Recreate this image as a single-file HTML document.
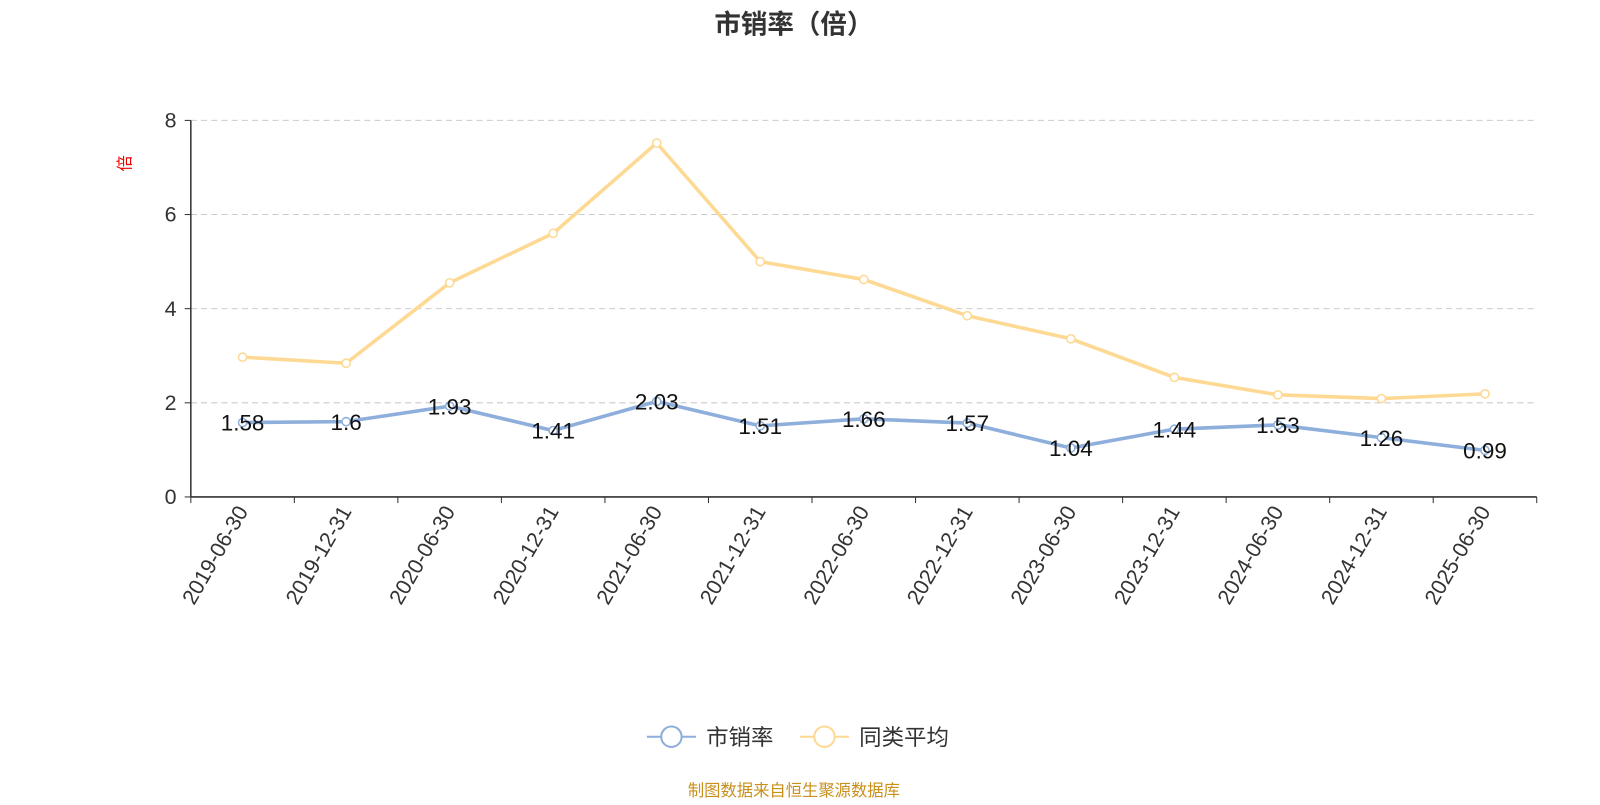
<!DOCTYPE html>
<html><head><meta charset="utf-8"><style>
body{margin:0;background:#fff;width:1600px;height:800px;overflow:hidden;font-family:"Liberation Sans","Noto Sans CJK SC",sans-serif}
</style></head><body>
<svg id="c" width="1600" height="800" viewBox="0 0 1568 784" xmlns="http://www.w3.org/2000/svg" font-family="Liberation Sans, Noto Sans CJK SC, sans-serif">
<text x="778" y="33" text-anchor="middle" font-size="26" font-weight="bold" fill="#333">市销率（倍）</text>
<text x="128" y="160" text-anchor="middle" font-size="16" fill="#e00" transform="rotate(-90 128 160)">倍</text>
<g id="grid"></g><g id="axes"></g><g id="series"></g>
<g>
<line x1="634" y1="722" x2="682" y2="722" stroke="#8eaedc" stroke-width="2"/>
<circle cx="658" cy="722" r="10" fill="#fff" stroke="#8eaedc" stroke-width="2"/>
<text x="692" y="730" font-size="22" fill="#333">市销率</text>
<line x1="784" y1="722" x2="832" y2="722" stroke="#fdd993" stroke-width="2"/>
<circle cx="808" cy="722" r="10" fill="#fff" stroke="#fdd993" stroke-width="2"/>
<text x="842" y="730" font-size="22" fill="#333">同类平均</text>
</g>
<text x="778" y="780" text-anchor="middle" font-size="16" fill="#c8901a">制图数据来自恒生聚源数据库</text>
</svg>
<script>
const categories=["2019-06-30","2019-12-31","2020-06-30","2020-12-31","2021-06-30","2021-12-31","2022-06-30","2022-12-31","2023-06-30","2023-12-31","2024-06-30","2024-12-31","2025-06-30"];
const psrValues=[1.58,1.6,1.93,1.41,2.03,1.51,1.66,1.57,1.04,1.44,1.53,1.26,0.99];
const avgValues=[2.97,2.84,4.55,5.6,7.52,5.0,4.62,3.85,3.36,2.54,2.17,2.09,2.19];
const yTicks=[0,2,4,6,8];
const NS="http://www.w3.org/2000/svg";
const X0=187,X1=1506,Y0=487,Y1=118,YMAX=8;
const bw=(X1-X0)/categories.length;
const xs=i=>X0+bw*(i+0.5);
const ys=v=>Y0-(v/YMAX)*(Y0-Y1);
function mk(t,a,p){const e=document.createElementNS(NS,t);for(const k in a)e.setAttribute(k,a[k]);p.appendChild(e);return e;}
const grid=document.getElementById('grid'),axes=document.getElementById('axes'),ser=document.getElementById('series');
yTicks.forEach(v=>{
 if(v>0){const g=mk('line',{x1:X0,x2:X1,y1:ys(v),y2:ys(v),stroke:'#ccc','stroke-dasharray':'6,4'},grid);
 
 }
 const tk=mk('line',{x1:X0-6,x2:X0,y1:ys(v),y2:ys(v),stroke:'#333'},axes);
 
 
 const t=mk('text',{x:X0-14,y:ys(v)+7,'text-anchor':'end','font-size':21,fill:'#333'},axes);t.textContent=v;
 
 
});
const ya=mk('line',{x1:X0,x2:X0,y1:Y1,y2:Y0,stroke:'#333','stroke-width':1.5},axes);


const xa=mk('line',{x1:X0,x2:X1,y1:Y0,y2:Y0,stroke:'#333','stroke-width':1.5},axes);


for(let i=0;i<=categories.length;i++){const tk=mk('line',{x1:X0+bw*i,x2:X0+bw*i,y1:Y0,y2:Y0+6,stroke:'#333'},axes);
 
 }
categories.forEach((c,i)=>{const x=xs(i),y=Y0+14;
 const t=mk('text',{x:x+6,y:y,'text-anchor':'end','font-size':21,fill:'#333',transform:`rotate(-60 ${x+6} ${y})`},axes);t.textContent=c;
 
 });
function line(vals,color,name,labels){
 const p=mk('polyline',{points:vals.map((v,i)=>xs(i)+','+ys(v)).join(' '),fill:'none',stroke:color,'stroke-width':3.5,'stroke-linejoin':'round'},ser);
 
 
 vals.forEach((v,i)=>{const c=mk('circle',{cx:xs(i),cy:ys(v),r:4,fill:'#fff',stroke:color,'stroke-width':1.5},ser);
  
  
  if(labels){const t=mk('text',{x:xs(i),y:ys(v)+8,'text-anchor':'middle','font-size':22,fill:'#111'},ser);t.textContent=v;
  
  }});
}
line(avgValues,'#fdd993','avg',false);
line(psrValues,'#8eaedc','psr',true);
</script>
</body></html>
